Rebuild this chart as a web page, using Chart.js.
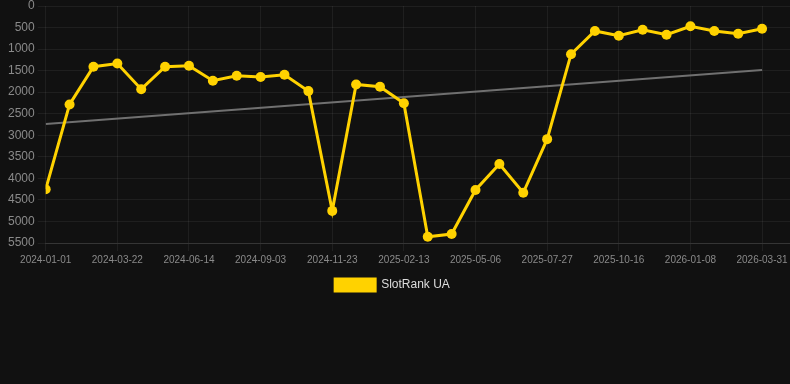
<!DOCTYPE html>
<html>
<head>
<meta charset="utf-8">
<script src="https://cdn.jsdelivr.net/npm/chart.js@4"></script>
<style>
    html, body { margin: 0; padding: 0; background: #111111; overflow: hidden; }
    #wrap { width: 796px; height: 301px; position: relative; }
</style>
</head>
<body>
<div id="wrap"><canvas id="rankChart"></canvas></div>
<script>
// tanggal tiap titik (label sumbu x)
const dates = [
    '2024-01-01', '2024-01-28', '2024-02-24', '2024-03-22', '2024-04-19', '2024-05-17',
    '2024-06-14', '2024-07-11', '2024-08-07', '2024-09-03', '2024-09-30', '2024-10-27',
    '2024-11-23', '2024-12-20', '2025-01-17', '2025-02-13', '2025-03-12', '2025-04-09',
    '2025-05-06', '2025-06-02', '2025-06-30', '2025-07-27', '2025-08-23', '2025-09-19',
    '2025-10-16', '2025-11-12', '2025-12-12', '2026-01-08', '2026-02-04', '2026-03-03',
    '2026-03-31'
];

// peringkat SlotRank UA
const rankValues = [
    4254, 2285, 1410, 1335, 1930, 1410, 1388, 1735, 1620, 1648, 1597, 1975,
    4755, 1820, 1875, 2255, 5355, 5291, 4270, 3667, 4335, 3090, 1118, 580,
    690, 552, 668, 470, 580, 645, 530
];

// garis tren: nilai awal dan akhir
const trendIndex = [0, 30];
const trendValues = [2738, 1485];

const yTicks = [0, 500, 1000, 1500, 2000, 2500, 3000, 3500, 4000, 4500, 5000, 5500];

// geser legenda sedikit ke kiri
const legendShift = {
    id: 'legendShift',
    afterLayout(chart) {
        if (!chart.legend) return;
        chart.legend.left -= 8;
        chart.legend.right -= 8;
    }
};

document.addEventListener('DOMContentLoaded', function() {
    const ctx = document.getElementById('rankChart').getContext('2d');

    const rankPoints = rankValues.map((v, i) => ({ x: i, y: v }));
    const trendPoints = trendValues.map((v, i) => ({ x: trendIndex[i], y: v }));

    new Chart(ctx, {
        type: 'line',
        data: {
            datasets: [
                {
                    label: 'SlotRank UA',
                    data: rankPoints,
                    borderColor: '#FFD200',
                    backgroundColor: '#FFD200',
                    borderWidth: 3,
                    pointRadius: 5,
                    pointHoverRadius: 6,
                    pointBackgroundColor: '#FFD200',
                    pointBorderWidth: 0,
                    tension: 0
                },
                {
                    label: 'trend',
                    data: trendPoints,
                    borderColor: '#707070',
                    borderWidth: 2,
                    pointRadius: 0,
                    fill: false
                }
            ]
        },
        options: {
            responsive: true,
            maintainAspectRatio: false,
            animation: false,
            layout: { padding: { left: 5, top: 6, right: 0, bottom: 0 } },
            scales: {
                x: {
                    type: 'linear',
                    min: 0,
                    max: 31.17,
                    afterFit: scale => { scale.paddingRight = 0; },
                    grid: { color: 'rgba(255,255,255,0.06)', drawTicks: true },
                    border: { color: 'rgba(255,255,255,0.10)' },
                    ticks: {
                        stepSize: 3,
                        includeBounds: false,
                        color: '#8a8a8a',
                        font: { family: 'Arial, Liberation Sans', size: 10 },
                        maxRotation: 0,
                        callback: value => dates[value] || ''
                    }
                },
                y: {
                    reverse: true,
                    min: 0,
                    max: 5500,
                    afterBuildTicks: axis => { axis.ticks = yTicks.map(v => ({ value: v })); },
                    afterFit: scale => { scale.paddingTop = 0; },
                    grid: { color: 'rgba(255,255,255,0.06)' },
                    border: { display: false },
                    ticks: {
                        color: '#8a8a8a',
                        font: { family: 'Arial, Liberation Sans', size: 12 },
                        callback: value => String(value)
                    }
                }
            },
            plugins: {
                legend: {
                    display: true,
                    position: 'bottom',
                    labels: {
                        boxWidth: 40,
                        boxHeight: 12,
                        color: '#dddddd',
                        font: { family: 'Arial, Liberation Sans', size: 12 },
                        filter: item => item.text !== 'trend'
                    }
                },
                tooltip: { enabled: false }
            }
        },
        plugins: [legendShift]
    });
});
</script>
</body>
</html>
